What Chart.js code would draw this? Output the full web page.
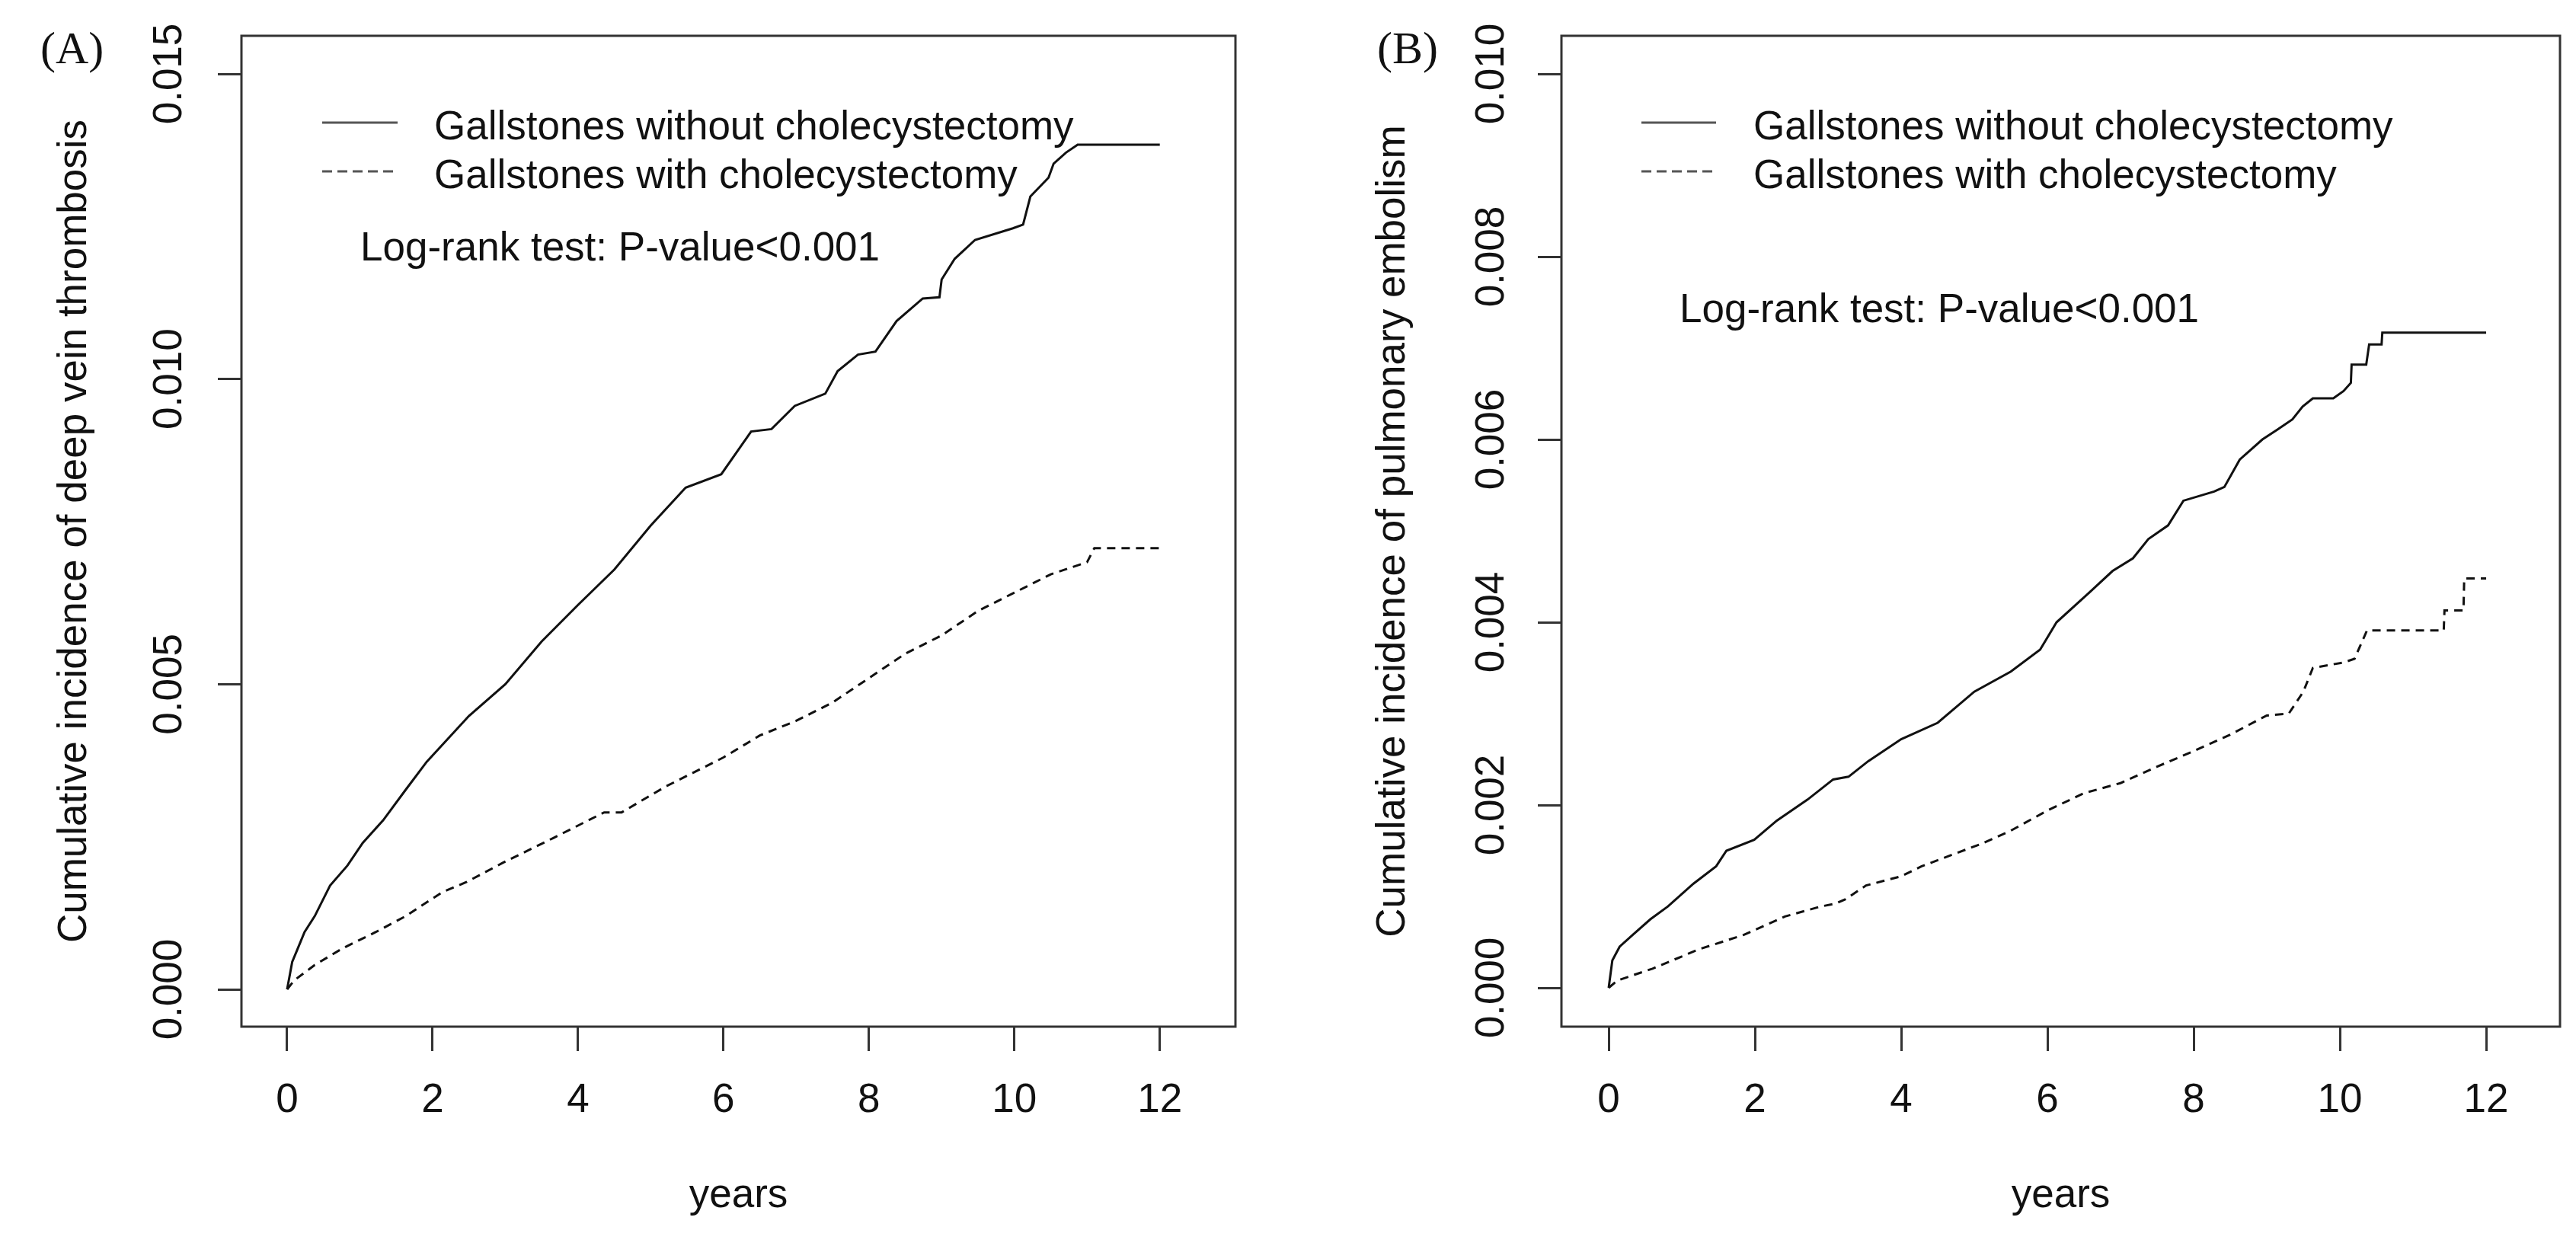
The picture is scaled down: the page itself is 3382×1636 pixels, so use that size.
<!DOCTYPE html>
<html>
<head>
<meta charset="utf-8">
<script src="https://cdn.jsdelivr.net/npm/chart.js@4.4.1/dist/chart.umd.min.js"></script>
<style>
  html, body { margin: 0; padding: 0; background: #fff; }
  #wrap { position: relative; width: 3382px; height: 1636px; }
  canvas { position: absolute; top: 0; }
  #chartA { left: 0; }
  #chartB { left: 1690px; }
</style>
</head>
<body>
<div id="wrap">
  <canvas id="chartA" width="1690" height="1636"></canvas>
  <canvas id="chartB" width="1692" height="1636"></canvas>
</div>
<script>
// ---- data ----
const xTicks = [0, 2, 4, 6, 8, 10, 12];
const yTicksA = [0, 0.005, 0.010, 0.015];
const yTicksB = [0, 0.002, 0.004, 0.006, 0.008, 0.010];

const legendLabels = ["Gallstones without cholecystectomy", "Gallstones with cholecystectomy"];
const testLabel = "Log-rank test: P-value<0.001";

// (A) deep vein thrombosis
const dvtNoSurgYears = [0, 0.07, 0.14, 0.24, 0.38, 0.59, 0.83, 1.04, 1.32, 1.63, 1.92, 2.5, 3, 3.5, 4, 4.5, 5, 5.48, 5.97, 6.38, 6.66, 6.98, 7.4, 7.57, 7.85, 8.09, 8.38, 8.74, 8.97, 9.0, 9.18, 9.46, 9.98, 10.12, 10.22, 10.47, 10.54, 10.71, 10.87, 12];
const dvtNoSurg = [0, 0.00045, 0.00065, 0.00094, 0.0012, 0.0017, 0.00203, 0.0024, 0.00277, 0.00327, 0.00373, 0.00448, 0.0050, 0.0057, 0.0063, 0.00688, 0.0076, 0.00822, 0.00844, 0.00914, 0.00918, 0.00956, 0.00976, 0.01013, 0.0104, 0.01045, 0.01095, 0.01132, 0.01134, 0.01163, 0.01197, 0.01228, 0.01247, 0.01253, 0.01299, 0.0133, 0.01353, 0.01371, 0.01384, 0.01384];
const dvtSurgYears = [0, 0.1, 0.38, 0.76, 1.22, 1.63, 2.13, 2.47, 2.96, 3.66, 4.36, 4.6, 5.2, 5.5, 6, 6.5, 7, 7.5, 8, 8.5, 9, 9.5, 10, 10.5, 11, 11.1, 12];
const dvtSurg = [0, 0.00015, 0.0004, 0.00067, 0.00094, 0.0012, 0.00159, 0.00176, 0.00207, 0.00248, 0.0029, 0.0029, 0.00332, 0.0035, 0.0038, 0.00416, 0.0044, 0.0047, 0.0051, 0.0055, 0.0058, 0.0062, 0.0065, 0.0068, 0.0070, 0.00723, 0.00723];

// (B) pulmonary embolism
const peNoSurgYears = [0, 0.05, 0.15, 0.33, 0.57, 0.81, 1.16, 1.47, 1.61, 1.99, 2.3, 2.72, 3.07, 3.28, 3.55, 4, 4.5, 5, 5.5, 5.9, 6.125, 6.58, 6.89, 7.17, 7.38, 7.65, 7.86, 8.28, 8.42, 8.63, 8.94, 9.15, 9.35, 9.49, 9.63, 9.91, 10.05, 10.15, 10.16, 10.36, 10.4, 10.57, 10.58, 12];
const peNoSurg = [0, 0.0003, 0.00045, 0.00058, 0.00075, 0.00089, 0.00114, 0.00133, 0.0015, 0.00162, 0.00183, 0.00206, 0.00228, 0.00231, 0.00248, 0.00272, 0.0029, 0.00324, 0.00346, 0.0037, 0.0040, 0.00433, 0.00456, 0.0047, 0.00491, 0.00506, 0.00533, 0.00543, 0.00548, 0.00578, 0.0060, 0.00611, 0.00622, 0.00636, 0.00645, 0.00645, 0.00653, 0.00662, 0.00682, 0.00682, 0.00704, 0.00704, 0.00717, 0.00717];
const peSurgYears = [0, 0.12, 0.6, 1.23, 1.85, 2.41, 2.9, 3.1, 3.24, 3.52, 4.0, 4.28, 5.11, 5.5, 6, 6.5, 7, 7.5, 8, 8.5, 9, 9.3, 9.5, 9.63, 10.05, 10.2, 10.37, 11.42, 11.43, 11.69, 11.7, 12];
const peSurg = [0, 0.00008, 0.00021, 0.00042, 0.00058, 0.00078, 0.00089, 0.00092, 0.00097, 0.00112, 0.00122, 0.00133, 0.00158, 0.00172, 0.00194, 0.00213, 0.00224, 0.00242, 0.00259, 0.00277, 0.00298, 0.0030, 0.00324, 0.0035, 0.00356, 0.0036, 0.00391, 0.00391, 0.00413, 0.00413, 0.00448, 0.00448];

const FONT = "'Liberation Sans', Arial, sans-serif";
const INK = "#111";
const BOX = "#333";

function toPoints(xs, ys) {
  return xs.map((x, i) => ({ x: x, y: ys[i] }));
}

// plot frame + legend + test text, drawn on the canvas after the chart
const framePlugin = {
  id: "frame",
  afterDraw(chart, args, opts) {
    const { ctx, chartArea } = chart;
    ctx.save();
    ctx.strokeStyle = BOX;
    ctx.lineWidth = 3;
    ctx.strokeRect(chartArea.left, chartArea.top, chartArea.right - chartArea.left, chartArea.bottom - chartArea.top);

    // panel letter
    ctx.fillStyle = INK;
    ctx.font = "60px 'Liberation Serif', 'Times New Roman', serif";
    ctx.textBaseline = "alphabetic";
    ctx.textAlign = "left";
    ctx.fillText(opts.panel, opts.panelX, 83);

    // legend
    ctx.font = "53px " + FONT;
    chart.data.datasets.forEach((ds, i) => {
      const ly = opts.legendY + i * 64;
      ctx.beginPath();
      ctx.setLineDash(ds.borderDash ? [13, 7] : []);
      ctx.lineWidth = 3;
      ctx.strokeStyle = "#555";
      ctx.moveTo(opts.legendX1, ly);
      ctx.lineTo(opts.legendX2, ly);
      ctx.stroke();
      ctx.setLineDash([]);
      ctx.fillText(ds.label, opts.legendTextX, ly + 22);
    });

    ctx.fillText(testLabel, opts.testX, opts.testY);
    ctx.restore();
  }
};

function makeChart(id, cfg) {
  return new Chart(document.getElementById(id), {
    type: "scatter",
    data: {
      datasets: [
        {
          label: legendLabels[0],
          data: toPoints(cfg.xs1, cfg.ys1),
          showLine: true,
          borderColor: INK,
          borderWidth: 3,
          pointRadius: 0,
          tension: 0,
        },
        {
          label: legendLabels[1],
          data: toPoints(cfg.xs2, cfg.ys2),
          showLine: true,
          borderColor: INK,
          borderWidth: 3,
          borderDash: [11, 8],
          pointRadius: 0,
          tension: 0,
        },
      ],
    },
    plugins: [framePlugin],
    options: {
      responsive: false,
      devicePixelRatio: 1,
      animation: false,
      layout: {
        padding: { left: 0, top: 47, right: cfg.padRight, bottom: 0 },
      },
      plugins: {
        legend: { display: false },
        tooltip: { enabled: false },
        frame: cfg.frame,
      },
      scales: {
        x: {
          type: "linear",
          min: cfg.xMin,
          max: cfg.xMax,
          afterBuildTicks: (s) => {
            s.ticks = xTicks.map((v) => ({ value: v }));
          },
          afterFit: (s) => {
            s.height = 288;
          },
          border: { display: false },
          grid: {
            drawOnChartArea: false,
            drawTicks: true,
            tickLength: 32,
            tickWidth: 3,
            tickColor: BOX,
          },
          ticks: {
            padding: 34,
            maxRotation: 0,
            minRotation: 0,
            color: INK,
            font: { family: FONT, size: 53 },
            callback: (v) => String(v),
          },
          title: {
            display: true,
            text: "years",
            color: INK,
            font: { family: FONT, size: 53 },
            padding: { top: 0, bottom: 34 },
          },
        },
        y: {
          type: "linear",
          min: cfg.yMin,
          max: cfg.yMax,
          afterBuildTicks: (s) => {
            s.ticks = cfg.yTicks.map((v) => ({ value: v }));
          },
          afterFit: (s) => {
            s.width = cfg.yWidth;
          },
          border: { display: false },
          grid: {
            drawOnChartArea: false,
            drawTicks: true,
            tickLength: 31,
            tickWidth: 3,
            tickColor: BOX,
          },
          ticks: {
            minRotation: 90,
            maxRotation: 90,
            crossAlign: "center",
            padding: cfg.yTickPad,
            color: INK,
            font: { family: FONT, size: 53 },
            callback: (v) => Number(v).toFixed(3),
          },
          title: {
            display: true,
            text: cfg.yTitle,
            color: INK,
            font: { family: FONT, size: 53 },
            padding: { top: cfg.yTitlePad, bottom: 0 },
          },
        },
      },
    },
  });
}

makeChart("chartA", {
  xs1: dvtNoSurgYears, ys1: dvtNoSurg,
  xs2: dvtSurgYears, ys2: dvtSurg,
  xMin: -0.628, xMax: 13.04,
  yMin: -0.000611, yMax: 0.015624,
  yTicks: yTicksA,
  yWidth: 317, padRight: 68, yTickPad: -4, yTitlePad: 67,
  yTitle: "Cumulative incidence of deep vein thrombosis",
  frame: { panel: "(A)", panelX: 53, legendY: 161, legendX1: 423, legendX2: 522, legendTextX: 570, testX: 473, testY: 342 },
});

makeChart("chartB", {
  xs1: peNoSurgYears, ys1: peNoSurg,
  xs2: peSurgYears, ys2: peSurg,
  xMin: -0.646, xMax: 13.01,
  yMin: -0.000425, yMax: 0.010417,
  yTicks: yTicksB,
  yWidth: 360, padRight: 21, yTickPad: -6.5, yTitlePad: 108,
  yTitle: "Cumulative incidence of pulmonary embolism",
  frame: { panel: "(B)", panelX: 118, legendY: 161, legendX1: 465, legendX2: 563, legendTextX: 612, testX: 515, testY: 423 },
});
</script>
</body>
</html>
